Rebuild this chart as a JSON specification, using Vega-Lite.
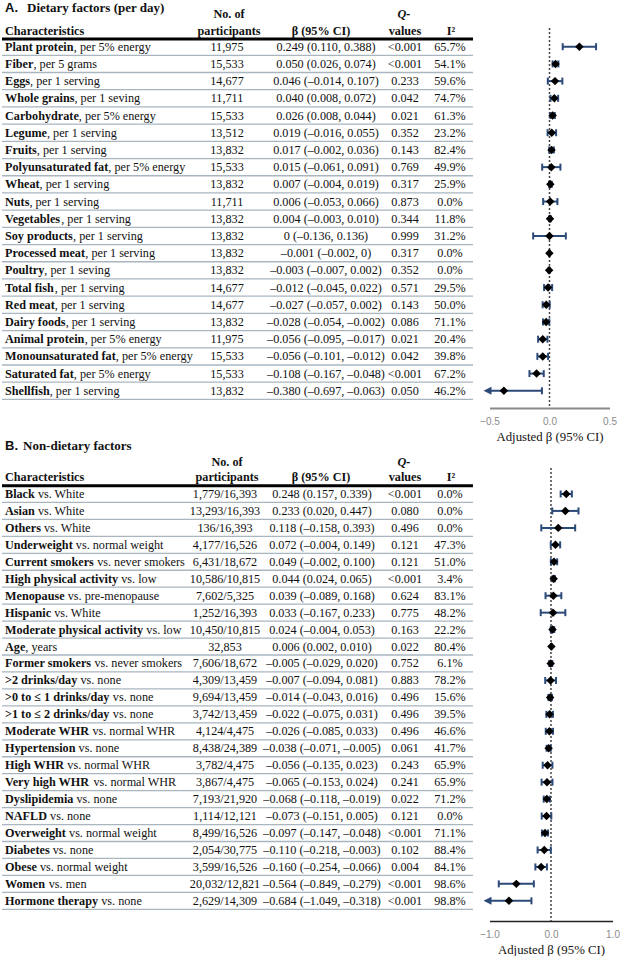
{
"$schema":"https://vega.github.io/schema/vega-lite/v6.json",
"padding":0,
"bounds":"flush",
"columns":2,
"spacing":{"row":28,"column":16.5},
"config":{"view":{"stroke":null},"text":{"font":"Liberation Serif","fontSize":12.2,"color":"#111"},"axis":{"grid":false}},
"datasets":{
"A":[
{"i":0,"name":"Plant protein","rest":", per 5% energy","n":"11,975","ci":"0.249 (0.110, 0.388)","q":"<0.001","i2":"65.7%","b":0.249,"lo":0.110,"hi":0.388},
{"i":1,"name":"Fiber","rest":", per 5 grams","n":"15,533","ci":"0.050 (0.026, 0.074)","q":"<0.001","i2":"54.1%","b":0.050,"lo":0.026,"hi":0.074},
{"i":2,"name":"Eggs","rest":", per 1 serving","n":"14,677","ci":"0.046 (–0.014, 0.107)","q":"0.233","i2":"59.6%","b":0.046,"lo":-0.014,"hi":0.107},
{"i":3,"name":"Whole grains","rest":", per 1 seving","n":"11,711","ci":"0.040 (0.008, 0.072)","q":"0.042","i2":"74.7%","b":0.040,"lo":0.008,"hi":0.072},
{"i":4,"name":"Carbohydrate","rest":", per 5% energy","n":"15,533","ci":"0.026 (0.008, 0.044)","q":"0.021","i2":"61.3%","b":0.026,"lo":0.008,"hi":0.044},
{"i":5,"name":"Legume","rest":", per 1 serving","n":"13,512","ci":"0.019 (–0.016, 0.055)","q":"0.352","i2":"23.2%","b":0.019,"lo":-0.016,"hi":0.055},
{"i":6,"name":"Fruits","rest":", per 1 serving","n":"13,832","ci":"0.017 (–0.002, 0.036)","q":"0.143","i2":"82.4%","b":0.017,"lo":-0.002,"hi":0.036},
{"i":7,"name":"Polyunsaturated fat","rest":", per 5% energy","n":"15,533","ci":"0.015 (–0.061, 0.091)","q":"0.769","i2":"49.9%","b":0.015,"lo":-0.061,"hi":0.091},
{"i":8,"name":"Wheat","rest":", per 1 serving","n":"13,832","ci":"0.007 (–0.004, 0.019)","q":"0.317","i2":"25.9%","b":0.007,"lo":-0.004,"hi":0.019},
{"i":9,"name":"Nuts","rest":", per 1 serving","n":"11,711","ci":"0.006 (–0.053, 0.066)","q":"0.873","i2":"0.0%","b":0.006,"lo":-0.053,"hi":0.066},
{"i":10,"name":"Vegetables","rest":", per 1 serving","n":"13,832","ci":"0.004 (–0.003, 0.010)","q":"0.344","i2":"11.8%","b":0.004,"lo":-0.003,"hi":0.010},
{"i":11,"name":"Soy products","rest":", per 1 serving","n":"13,832","ci":"0 (–0.136, 0.136)","q":"0.999","i2":"31.2%","b":0,"lo":-0.136,"hi":0.136},
{"i":12,"name":"Processed meat","rest":", per 1 serving","n":"13,832","ci":"–0.001 (–0.002, 0)","q":"0.317","i2":"0.0%","b":-0.001,"lo":-0.002,"hi":0},
{"i":13,"name":"Poultry","rest":", per 1 seving","n":"13,832","ci":"–0.003 (–0.007, 0.002)","q":"0.352","i2":"0.0%","b":-0.003,"lo":-0.007,"hi":0.002},
{"i":14,"name":"Total fish","rest":", per 1 serving","n":"14,677","ci":"–0.012 (–0.045, 0.022)","q":"0.571","i2":"29.5%","b":-0.012,"lo":-0.045,"hi":0.022},
{"i":15,"name":"Red meat","rest":", per 1 serving","n":"14,677","ci":"–0.027 (–0.057, 0.002)","q":"0.143","i2":"50.0%","b":-0.027,"lo":-0.057,"hi":0.002},
{"i":16,"name":"Dairy foods","rest":", per 1 serving","n":"13,832","ci":"–0.028 (–0.054, –0.002)","q":"0.086","i2":"71.1%","b":-0.028,"lo":-0.054,"hi":-0.002},
{"i":17,"name":"Animal protein","rest":", per 5% energy","n":"11,975","ci":"–0.056 (–0.095, –0.017)","q":"0.021","i2":"20.4%","b":-0.056,"lo":-0.095,"hi":-0.017},
{"i":18,"name":"Monounsaturated fat","rest":", per 5% energy","n":"15,533","ci":"–0.056 (–0.101, –0.012)","q":"0.042","i2":"39.8%","b":-0.056,"lo":-0.101,"hi":-0.012},
{"i":19,"name":"Saturated fat","rest":", per 5% energy","n":"15,533","ci":"–0.108 (–0.167, –0.048)","q":"<0.001","i2":"67.2%","b":-0.108,"lo":-0.167,"hi":-0.048},
{"i":20,"name":"Shellfish","rest":", per 1 serving","n":"13,832","ci":"–0.380 (–0.697, –0.063)","q":"0.050","i2":"46.2%","b":-0.380,"lo":-0.697,"hi":-0.063}
],
"B":[
{"i":0,"name":"Black","rest":" vs. White","n":"1,779/16,393","ci":"0.248 (0.157, 0.339)","q":"<0.001","i2":"0.0%","b":0.248,"lo":0.157,"hi":0.339},
{"i":1,"name":"Asian","rest":" vs. White","n":"13,293/16,393","ci":"0.233 (0.020, 0.447)","q":"0.080","i2":"0.0%","b":0.233,"lo":0.020,"hi":0.447},
{"i":2,"name":"Others","rest":" vs. White","n":"136/16,393","ci":"0.118 (–0.158, 0.393)","q":"0.496","i2":"0.0%","b":0.118,"lo":-0.158,"hi":0.393},
{"i":3,"name":"Underweight","rest":" vs. normal weight","n":"4,177/16,526","ci":"0.072 (–0.004, 0.149)","q":"0.121","i2":"47.3%","b":0.072,"lo":-0.004,"hi":0.149},
{"i":4,"name":"Current smokers","rest":" vs. never smokers","n":"6,431/18,672","ci":"0.049 (–0.002, 0.100)","q":"0.121","i2":"51.0%","b":0.049,"lo":-0.002,"hi":0.100},
{"i":5,"name":"High physical activity","rest":" vs. low","n":"10,586/10,815","ci":"0.044 (0.024, 0.065)","q":"<0.001","i2":"3.4%","b":0.044,"lo":0.024,"hi":0.065},
{"i":6,"name":"Menopause","rest":" vs. pre-menopause","n":"7,602/5,325","ci":"0.039 (–0.089, 0.168)","q":"0.624","i2":"83.1%","b":0.039,"lo":-0.089,"hi":0.168},
{"i":7,"name":"Hispanic","rest":" vs. White","n":"1,252/16,393","ci":"0.033 (–0.167, 0.233)","q":"0.775","i2":"48.2%","b":0.033,"lo":-0.167,"hi":0.233},
{"i":8,"name":"Moderate physical activity","rest":" vs. low","n":"10,450/10,815","ci":"0.024 (–0.004, 0.053)","q":"0.163","i2":"22.2%","b":0.024,"lo":-0.004,"hi":0.053},
{"i":9,"name":"Age","rest":", years","n":"32,853","ci":"0.006 (0.002, 0.010)","q":"0.022","i2":"80.4%","b":0.006,"lo":0.002,"hi":0.010},
{"i":10,"name":"Former smokers","rest":" vs. never smokers","n":"7,606/18,672","ci":"–0.005 (–0.029, 0.020)","q":"0.752","i2":"6.1%","b":-0.005,"lo":-0.029,"hi":0.020},
{"i":11,"name":">2 drinks/day","rest":" vs. none","n":"4,309/13,459","ci":"–0.007 (–0.094, 0.081)","q":"0.883","i2":"78.2%","b":-0.007,"lo":-0.094,"hi":0.081},
{"i":12,"name":">0 to ≤ 1 drinks/day","rest":" vs. none","n":"9,694/13,459","ci":"–0.014 (–0.043, 0.016)","q":"0.496","i2":"15.6%","b":-0.014,"lo":-0.043,"hi":0.016},
{"i":13,"name":">1 to ≤ 2 drinks/day","rest":" vs. none","n":"3,742/13,459","ci":"–0.022 (–0.075, 0.031)","q":"0.496","i2":"39.5%","b":-0.022,"lo":-0.075,"hi":0.031},
{"i":14,"name":"Moderate WHR","rest":" vs. normal WHR","n":"4,124/4,475","ci":"–0.026 (–0.085, 0.033)","q":"0.496","i2":"46.6%","b":-0.026,"lo":-0.085,"hi":0.033},
{"i":15,"name":"Hypertension","rest":" vs. none","n":"8,438/24,389","ci":"–0.038 (–0.071, –0.005)","q":"0.061","i2":"41.7%","b":-0.038,"lo":-0.071,"hi":-0.005},
{"i":16,"name":"High WHR","rest":" vs. normal WHR","n":"3,782/4,475","ci":"–0.056 (–0.135, 0.023)","q":"0.243","i2":"65.9%","b":-0.056,"lo":-0.135,"hi":0.023},
{"i":17,"name":"Very high WHR","rest":" vs. normal WHR","n":"3,867/4,475","ci":"–0.065 (–0.153, 0.024)","q":"0.241","i2":"65.9%","b":-0.065,"lo":-0.153,"hi":0.024},
{"i":18,"name":"Dyslipidemia","rest":" vs. none","n":"7,193/21,920","ci":"–0.068 (–0.118, –0.019)","q":"0.022","i2":"71.2%","b":-0.068,"lo":-0.118,"hi":-0.019},
{"i":19,"name":"NAFLD","rest":" vs. none","n":"1,114/12,121","ci":"–0.073 (–0.151, 0.005)","q":"0.121","i2":"0.0%","b":-0.073,"lo":-0.151,"hi":0.005},
{"i":20,"name":"Overweight","rest":" vs. normal weight","n":"8,499/16,526","ci":"–0.097 (–0.147, –0.048)","q":"<0.001","i2":"71.1%","b":-0.097,"lo":-0.147,"hi":-0.048},
{"i":21,"name":"Diabetes","rest":" vs. none","n":"2,054/30,775","ci":"–0.110 (–0.218, –0.003)","q":"0.102","i2":"88.4%","b":-0.110,"lo":-0.218,"hi":-0.003},
{"i":22,"name":"Obese","rest":" vs. normal weight","n":"3,599/16,526","ci":"–0.160 (–0.254, –0.066)","q":"0.004","i2":"84.1%","b":-0.160,"lo":-0.254,"hi":-0.066},
{"i":23,"name":"Women","rest":" vs. men","n":"20,032/12,821","ci":"–0.564 (–0.849, –0.279)","q":"<0.001","i2":"98.6%","b":-0.564,"lo":-0.849,"hi":-0.279},
{"i":24,"name":"Hormone therapy","rest":" vs. none","n":"2,629/14,309","ci":"–0.684 (–1.049, –0.318)","q":"<0.001","i2":"98.8%","b":-0.684,"lo":-1.049,"hi":-0.318}
]
},
"concat":[
{"width":472,"height":408,"data":{"name":"A"},
"transform":[
{"calculate":"4 + 0.0122*(500*length(datum.name) - 250*length(replace(datum.name, regexp('[^ ,.]','g'), '')) - 222*length(replace(datum.name, regexp('[^il/]','g'), '')) - 167*length(replace(datum.name, regexp('[^fjt]','g'), '')) - 111*length(replace(datum.name, regexp('[^sI]','g'), '')) - 56*length(replace(datum.name, regexp('[^cerz]','g'), '')) + 56*length(replace(datum.name, regexp('[^bdhknpquS]','g'), '')) + 70*length(replace(datum.name, regexp('[^>≤]','g'), '')) + 111*length(replace(datum.name, regexp('[^FP]','g'), '')) + 167*length(replace(datum.name, regexp('[^BELTZ]','g'), '')) + 222*length(replace(datum.name, regexp('[^wACDNRUVXY]','g'), '')) + 278*length(replace(datum.name, regexp('[^GHKOQ]','g'), '')) + 333*length(replace(datum.name, regexp('[^m]','g'), '')) + 444*length(replace(datum.name, regexp('[^M]','g'), '')) + 500*length(replace(datum.name, regexp('[^W]','g'), '')))","as":"xn"},
{"calculate":"datum.xn + (substring(datum.rest,0,1)==' ' ? 3.05 : 0)","as":"xr"},
{"calculate":"trim(datum.rest)","as":"rt"},
{"calculate":"datum.i + 0.5","as":"sep"}
],
"layer":[
{"mark":{"type":"rule","color":"#a9b6c0","strokeWidth":1.3},"encoding":{"x":{"datum":1,"type":"quantitative","scale":{"domain":[0,472],"nice":false,"zero":false},"axis":null},"x2":{"datum":472},"y":{"field":"sep","type":"quantitative","scale":{"domain":[-2.715,21.0],"reverse":true,"nice":false,"zero":false},"axis":null}}},
{"data":{"values":[{}]},"mark":{"type":"rule","color":"#000","strokeWidth":3},"encoding":{"x":{"datum":1,"type":"quantitative","scale":{"domain":[0,472],"nice":false,"zero":false},"axis":null},"x2":{"datum":472},"y":{"datum":-0.45,"type":"quantitative","scale":{"domain":[-2.715,21.0],"reverse":true,"nice":false,"zero":false},"axis":null}}},
{"mark":{"type":"text","align":"left","baseline":"middle","fontWeight":"bold"},"encoding":{"x":{"datum":4,"type":"quantitative","scale":{"domain":[0,472],"nice":false,"zero":false},"axis":null},"y":{"field":"i","type":"quantitative","scale":{"domain":[-2.715,21.0],"reverse":true,"nice":false,"zero":false},"axis":null},"text":{"field":"name"}}},
{"mark":{"type":"text","align":"left","baseline":"middle"},"encoding":{"x":{"field":"xr","type":"quantitative","scale":{"domain":[0,472],"nice":false,"zero":false},"axis":null},"y":{"field":"i","type":"quantitative","scale":{"domain":[-2.715,21.0],"reverse":true,"nice":false,"zero":false},"axis":null},"text":{"field":"rt"}}},
{"mark":{"type":"text","align":"center","baseline":"middle"},"encoding":{"x":{"datum":226,"type":"quantitative","scale":{"domain":[0,472],"nice":false,"zero":false},"axis":null},"y":{"field":"i","type":"quantitative","scale":{"domain":[-2.715,21.0],"reverse":true,"nice":false,"zero":false},"axis":null},"text":{"field":"n"}}},
{"mark":{"type":"text","align":"center","baseline":"middle"},"encoding":{"x":{"datum":325,"type":"quantitative","scale":{"domain":[0,472],"nice":false,"zero":false},"axis":null},"y":{"field":"i","type":"quantitative","scale":{"domain":[-2.715,21.0],"reverse":true,"nice":false,"zero":false},"axis":null},"text":{"field":"ci"}}},
{"mark":{"type":"text","align":"center","baseline":"middle"},"encoding":{"x":{"datum":404,"type":"quantitative","scale":{"domain":[0,472],"nice":false,"zero":false},"axis":null},"y":{"field":"i","type":"quantitative","scale":{"domain":[-2.715,21.0],"reverse":true,"nice":false,"zero":false},"axis":null},"text":{"field":"q"}}},
{"mark":{"type":"text","align":"center","baseline":"middle"},"encoding":{"x":{"datum":449,"type":"quantitative","scale":{"domain":[0,472],"nice":false,"zero":false},"axis":null},"y":{"field":"i","type":"quantitative","scale":{"domain":[-2.715,21.0],"reverse":true,"nice":false,"zero":false},"axis":null},"text":{"field":"i2"}}},
{"data":{"values":[{}]},"mark":{"type":"text","align":"left","baseline":"middle","font":"Liberation Sans","fontWeight":"bold","fontSize":13,"text":"A."},"encoding":{"x":{"datum":4,"type":"quantitative","scale":{"domain":[0,472],"nice":false,"zero":false},"axis":null},"y":{"datum":-2.25,"type":"quantitative","scale":{"domain":[-2.715,21.0],"reverse":true,"nice":false,"zero":false},"axis":null}}},
{"data":{"values":[{}]},"mark":{"type":"text","align":"left","baseline":"middle","fontWeight":"bold","fontSize":13,"text":"Dietary factors (per day)"},"encoding":{"x":{"datum":26,"type":"quantitative","scale":{"domain":[0,472],"nice":false,"zero":false},"axis":null},"y":{"datum":-2.25,"type":"quantitative","scale":{"domain":[-2.715,21.0],"reverse":true,"nice":false,"zero":false},"axis":null}}},
{"data":{"values":[{}]},"mark":{"type":"text","align":"left","baseline":"middle","fontWeight":"bold","text":"Characteristics"},"encoding":{"x":{"datum":4,"type":"quantitative","scale":{"domain":[0,472],"nice":false,"zero":false},"axis":null},"y":{"datum":-0.93,"type":"quantitative","scale":{"domain":[-2.715,21.0],"reverse":true,"nice":false,"zero":false},"axis":null}}},
{"data":{"values":[{}]},"mark":{"type":"text","align":"center","baseline":"middle","fontWeight":"bold","text":"No. of"},"encoding":{"x":{"datum":228,"type":"quantitative","scale":{"domain":[0,472],"nice":false,"zero":false},"axis":null},"y":{"datum":-1.9,"type":"quantitative","scale":{"domain":[-2.715,21.0],"reverse":true,"nice":false,"zero":false},"axis":null}}},
{"data":{"values":[{}]},"mark":{"type":"text","align":"center","baseline":"middle","fontWeight":"bold","text":"participants"},"encoding":{"x":{"datum":228,"type":"quantitative","scale":{"domain":[0,472],"nice":false,"zero":false},"axis":null},"y":{"datum":-0.93,"type":"quantitative","scale":{"domain":[-2.715,21.0],"reverse":true,"nice":false,"zero":false},"axis":null}}},
{"data":{"values":[{}]},"mark":{"type":"text","align":"center","baseline":"middle","fontWeight":"bold","text":"β (95% CI)"},"encoding":{"x":{"datum":320,"type":"quantitative","scale":{"domain":[0,472],"nice":false,"zero":false},"axis":null},"y":{"datum":-0.93,"type":"quantitative","scale":{"domain":[-2.715,21.0],"reverse":true,"nice":false,"zero":false},"axis":null}}},
{"data":{"values":[{}]},"mark":{"type":"text","align":"center","baseline":"middle","fontWeight":"bold","fontStyle":"italic","text":"Q-"},"encoding":{"x":{"datum":403,"type":"quantitative","scale":{"domain":[0,472],"nice":false,"zero":false},"axis":null},"y":{"datum":-1.9,"type":"quantitative","scale":{"domain":[-2.715,21.0],"reverse":true,"nice":false,"zero":false},"axis":null}}},
{"data":{"values":[{}]},"mark":{"type":"text","align":"center","baseline":"middle","fontWeight":"bold","text":"values"},"encoding":{"x":{"datum":404,"type":"quantitative","scale":{"domain":[0,472],"nice":false,"zero":false},"axis":null},"y":{"datum":-0.93,"type":"quantitative","scale":{"domain":[-2.715,21.0],"reverse":true,"nice":false,"zero":false},"axis":null}}},
{"data":{"values":[{}]},"mark":{"type":"text","align":"center","baseline":"middle","fontWeight":"bold","text":"I²"},"encoding":{"x":{"datum":450,"type":"quantitative","scale":{"domain":[0,472],"nice":false,"zero":false},"axis":null},"y":{"datum":-0.93,"type":"quantitative","scale":{"domain":[-2.715,21.0],"reverse":true,"nice":false,"zero":false},"axis":null}}}
]},
{"width":120,"height":408,"data":{"name":"A"},
"layer":[
{"data":{"values":[{}]},"mark":{"type":"rule","strokeDash":[2,2],"strokeWidth":1.5,"color":"#444"},"encoding":{"x":{"datum":0,"type":"quantitative","scale":{"domain":[-0.5,0.5],"clamp":true,"nice":false,"zero":false},"axis":{"values":[-0.5,0,0.5],"format":".1f","title":"Adjusted β (95% CI)","ticks":false,"grid":false,"domainColor":"#8a8a8a","domainWidth":2,"labelColor":"#8a8a8a","labelFont":"Liberation Sans","labelFontSize":10,"labelPadding":8,"labelFlush":false,"titleFont":"Liberation Serif","titleFontSize":12.8,"titleFontWeight":"normal","titleColor":"#111","titlePadding":4}},"y":{"datum":-1.09,"type":"quantitative","scale":{"domain":[-2.715,21.0],"reverse":true,"nice":false,"zero":false},"axis":null},"y2":{"datum":21}}},
{"mark":{"type":"rule","color":"#2c4a78","strokeWidth":2},"encoding":{"x":{"field":"lo","type":"quantitative","scale":{"domain":[-0.5,0.5],"clamp":true,"nice":false,"zero":false},"axis":{"values":[-0.5,0,0.5],"format":".1f","title":"Adjusted β (95% CI)","ticks":false,"grid":false,"domainColor":"#8a8a8a","domainWidth":2,"labelColor":"#8a8a8a","labelFont":"Liberation Sans","labelFontSize":10,"labelPadding":8,"labelFlush":false,"titleFont":"Liberation Serif","titleFontSize":12.8,"titleFontWeight":"normal","titleColor":"#111","titlePadding":4}},"x2":{"field":"hi"},"y":{"field":"i","type":"quantitative","scale":{"domain":[-2.715,21.0],"reverse":true,"nice":false,"zero":false},"axis":null}}},
{"transform":[{"filter":"datum.lo >= -0.5"}],"mark":{"type":"point","shape":"M0,-1L0,1","filled":false,"strokeWidth":2,"color":"#2c4a78","opacity":1,"size":49},"encoding":{"x":{"field":"lo","type":"quantitative","scale":{"domain":[-0.5,0.5],"clamp":true,"nice":false,"zero":false},"axis":{"values":[-0.5,0,0.5],"format":".1f","title":"Adjusted β (95% CI)","ticks":false,"grid":false,"domainColor":"#8a8a8a","domainWidth":2,"labelColor":"#8a8a8a","labelFont":"Liberation Sans","labelFontSize":10,"labelPadding":8,"labelFlush":false,"titleFont":"Liberation Serif","titleFontSize":12.8,"titleFontWeight":"normal","titleColor":"#111","titlePadding":4}},"y":{"field":"i","type":"quantitative","scale":{"domain":[-2.715,21.0],"reverse":true,"nice":false,"zero":false},"axis":null}}},
{"mark":{"type":"point","shape":"M0,-1L0,1","filled":false,"strokeWidth":2,"color":"#2c4a78","opacity":1,"size":49},"encoding":{"x":{"field":"hi","type":"quantitative","scale":{"domain":[-0.5,0.5],"clamp":true,"nice":false,"zero":false},"axis":{"values":[-0.5,0,0.5],"format":".1f","title":"Adjusted β (95% CI)","ticks":false,"grid":false,"domainColor":"#8a8a8a","domainWidth":2,"labelColor":"#8a8a8a","labelFont":"Liberation Sans","labelFontSize":10,"labelPadding":8,"labelFlush":false,"titleFont":"Liberation Serif","titleFontSize":12.8,"titleFontWeight":"normal","titleColor":"#111","titlePadding":4}},"y":{"field":"i","type":"quantitative","scale":{"domain":[-2.715,21.0],"reverse":true,"nice":false,"zero":false},"axis":null}}},
{"transform":[{"filter":"datum.lo < -0.5"}],"mark":{"type":"point","shape":"M-1.5,0L0.5,-1L0.5,1Z","filled":true,"color":"#2c4a78","opacity":1,"size":64},"encoding":{"x":{"field":"lo","type":"quantitative","scale":{"domain":[-0.5,0.5],"clamp":true,"nice":false,"zero":false},"axis":{"values":[-0.5,0,0.5],"format":".1f","title":"Adjusted β (95% CI)","ticks":false,"grid":false,"domainColor":"#8a8a8a","domainWidth":2,"labelColor":"#8a8a8a","labelFont":"Liberation Sans","labelFontSize":10,"labelPadding":8,"labelFlush":false,"titleFont":"Liberation Serif","titleFontSize":12.8,"titleFontWeight":"normal","titleColor":"#111","titlePadding":4}},"y":{"field":"i","type":"quantitative","scale":{"domain":[-2.715,21.0],"reverse":true,"nice":false,"zero":false},"axis":null}}},
{"mark":{"type":"point","shape":"diamond","filled":true,"color":"#000","opacity":1,"size":72},"encoding":{"x":{"field":"b","type":"quantitative","scale":{"domain":[-0.5,0.5],"clamp":true,"nice":false,"zero":false},"axis":{"values":[-0.5,0,0.5],"format":".1f","title":"Adjusted β (95% CI)","ticks":false,"grid":false,"domainColor":"#8a8a8a","domainWidth":2,"labelColor":"#8a8a8a","labelFont":"Liberation Sans","labelFontSize":10,"labelPadding":8,"labelFlush":false,"titleFont":"Liberation Serif","titleFontSize":12.8,"titleFontWeight":"normal","titleColor":"#111","titlePadding":4}},"y":{"field":"i","type":"quantitative","scale":{"domain":[-2.715,21.0],"reverse":true,"nice":false,"zero":false},"axis":null}}}
]},
{"width":472,"height":485,"data":{"name":"B"},
"transform":[
{"calculate":"4 + 0.0122*(500*length(datum.name) - 250*length(replace(datum.name, regexp('[^ ,.]','g'), '')) - 222*length(replace(datum.name, regexp('[^il/]','g'), '')) - 167*length(replace(datum.name, regexp('[^fjt]','g'), '')) - 111*length(replace(datum.name, regexp('[^sI]','g'), '')) - 56*length(replace(datum.name, regexp('[^cerz]','g'), '')) + 56*length(replace(datum.name, regexp('[^bdhknpquS]','g'), '')) + 70*length(replace(datum.name, regexp('[^>≤]','g'), '')) + 111*length(replace(datum.name, regexp('[^FP]','g'), '')) + 167*length(replace(datum.name, regexp('[^BELTZ]','g'), '')) + 222*length(replace(datum.name, regexp('[^wACDNRUVXY]','g'), '')) + 278*length(replace(datum.name, regexp('[^GHKOQ]','g'), '')) + 333*length(replace(datum.name, regexp('[^m]','g'), '')) + 444*length(replace(datum.name, regexp('[^M]','g'), '')) + 500*length(replace(datum.name, regexp('[^W]','g'), '')))","as":"xn"},
{"calculate":"datum.xn + (substring(datum.rest,0,1)==' ' ? 3.05 : 0)","as":"xr"},
{"calculate":"trim(datum.rest)","as":"rt"},
{"calculate":"datum.i + 0.5","as":"sep"}
],
"layer":[
{"mark":{"type":"rule","color":"#a9b6c0","strokeWidth":1.3},"encoding":{"x":{"datum":1,"type":"quantitative","scale":{"domain":[0,472],"nice":false,"zero":false},"axis":null},"x2":{"datum":472},"y":{"field":"sep","type":"quantitative","scale":{"domain":[-3.42,25.19],"reverse":true,"nice":false,"zero":false},"axis":null}}},
{"data":{"values":[{}]},"mark":{"type":"rule","color":"#000","strokeWidth":3},"encoding":{"x":{"datum":1,"type":"quantitative","scale":{"domain":[0,472],"nice":false,"zero":false},"axis":null},"x2":{"datum":472},"y":{"datum":-0.49,"type":"quantitative","scale":{"domain":[-3.42,25.19],"reverse":true,"nice":false,"zero":false},"axis":null}}},
{"mark":{"type":"text","align":"left","baseline":"middle","fontWeight":"bold"},"encoding":{"x":{"datum":4,"type":"quantitative","scale":{"domain":[0,472],"nice":false,"zero":false},"axis":null},"y":{"field":"i","type":"quantitative","scale":{"domain":[-3.42,25.19],"reverse":true,"nice":false,"zero":false},"axis":null},"text":{"field":"name"}}},
{"mark":{"type":"text","align":"left","baseline":"middle"},"encoding":{"x":{"field":"xr","type":"quantitative","scale":{"domain":[0,472],"nice":false,"zero":false},"axis":null},"y":{"field":"i","type":"quantitative","scale":{"domain":[-3.42,25.19],"reverse":true,"nice":false,"zero":false},"axis":null},"text":{"field":"rt"}}},
{"mark":{"type":"text","align":"center","baseline":"middle"},"encoding":{"x":{"datum":224,"type":"quantitative","scale":{"domain":[0,472],"nice":false,"zero":false},"axis":null},"y":{"field":"i","type":"quantitative","scale":{"domain":[-3.42,25.19],"reverse":true,"nice":false,"zero":false},"axis":null},"text":{"field":"n"}}},
{"mark":{"type":"text","align":"center","baseline":"middle"},"encoding":{"x":{"datum":321,"type":"quantitative","scale":{"domain":[0,472],"nice":false,"zero":false},"axis":null},"y":{"field":"i","type":"quantitative","scale":{"domain":[-3.42,25.19],"reverse":true,"nice":false,"zero":false},"axis":null},"text":{"field":"ci"}}},
{"mark":{"type":"text","align":"center","baseline":"middle"},"encoding":{"x":{"datum":404,"type":"quantitative","scale":{"domain":[0,472],"nice":false,"zero":false},"axis":null},"y":{"field":"i","type":"quantitative","scale":{"domain":[-3.42,25.19],"reverse":true,"nice":false,"zero":false},"axis":null},"text":{"field":"q"}}},
{"mark":{"type":"text","align":"center","baseline":"middle"},"encoding":{"x":{"datum":449,"type":"quantitative","scale":{"domain":[0,472],"nice":false,"zero":false},"axis":null},"y":{"field":"i","type":"quantitative","scale":{"domain":[-3.42,25.19],"reverse":true,"nice":false,"zero":false},"axis":null},"text":{"field":"i2"}}},
{"data":{"values":[{}]},"mark":{"type":"text","align":"left","baseline":"middle","font":"Liberation Sans","fontWeight":"bold","fontSize":13,"text":"B."},"encoding":{"x":{"datum":4,"type":"quantitative","scale":{"domain":[0,472],"nice":false,"zero":false},"axis":null},"y":{"datum":-2.83,"type":"quantitative","scale":{"domain":[-3.42,25.19],"reverse":true,"nice":false,"zero":false},"axis":null}}},
{"data":{"values":[{}]},"mark":{"type":"text","align":"left","baseline":"middle","fontWeight":"bold","fontSize":13,"text":"Non-dietary factors"},"encoding":{"x":{"datum":22,"type":"quantitative","scale":{"domain":[0,472],"nice":false,"zero":false},"axis":null},"y":{"datum":-2.83,"type":"quantitative","scale":{"domain":[-3.42,25.19],"reverse":true,"nice":false,"zero":false},"axis":null}}},
{"data":{"values":[{}]},"mark":{"type":"text","align":"left","baseline":"middle","fontWeight":"bold","text":"Characteristics"},"encoding":{"x":{"datum":4,"type":"quantitative","scale":{"domain":[0,472],"nice":false,"zero":false},"axis":null},"y":{"datum":-0.985,"type":"quantitative","scale":{"domain":[-3.42,25.19],"reverse":true,"nice":false,"zero":false},"axis":null}}},
{"data":{"values":[{}]},"mark":{"type":"text","align":"center","baseline":"middle","fontWeight":"bold","text":"No. of"},"encoding":{"x":{"datum":226,"type":"quantitative","scale":{"domain":[0,472],"nice":false,"zero":false},"axis":null},"y":{"datum":-1.89,"type":"quantitative","scale":{"domain":[-3.42,25.19],"reverse":true,"nice":false,"zero":false},"axis":null}}},
{"data":{"values":[{}]},"mark":{"type":"text","align":"center","baseline":"middle","fontWeight":"bold","text":"participants"},"encoding":{"x":{"datum":226,"type":"quantitative","scale":{"domain":[0,472],"nice":false,"zero":false},"axis":null},"y":{"datum":-0.985,"type":"quantitative","scale":{"domain":[-3.42,25.19],"reverse":true,"nice":false,"zero":false},"axis":null}}},
{"data":{"values":[{}]},"mark":{"type":"text","align":"center","baseline":"middle","fontWeight":"bold","text":"β (95% CI)"},"encoding":{"x":{"datum":320,"type":"quantitative","scale":{"domain":[0,472],"nice":false,"zero":false},"axis":null},"y":{"datum":-0.985,"type":"quantitative","scale":{"domain":[-3.42,25.19],"reverse":true,"nice":false,"zero":false},"axis":null}}},
{"data":{"values":[{}]},"mark":{"type":"text","align":"center","baseline":"middle","fontWeight":"bold","fontStyle":"italic","text":"Q-"},"encoding":{"x":{"datum":403,"type":"quantitative","scale":{"domain":[0,472],"nice":false,"zero":false},"axis":null},"y":{"datum":-1.89,"type":"quantitative","scale":{"domain":[-3.42,25.19],"reverse":true,"nice":false,"zero":false},"axis":null}}},
{"data":{"values":[{}]},"mark":{"type":"text","align":"center","baseline":"middle","fontWeight":"bold","text":"values"},"encoding":{"x":{"datum":404,"type":"quantitative","scale":{"domain":[0,472],"nice":false,"zero":false},"axis":null},"y":{"datum":-0.985,"type":"quantitative","scale":{"domain":[-3.42,25.19],"reverse":true,"nice":false,"zero":false},"axis":null}}},
{"data":{"values":[{}]},"mark":{"type":"text","align":"center","baseline":"middle","fontWeight":"bold","text":"I²"},"encoding":{"x":{"datum":450,"type":"quantitative","scale":{"domain":[0,472],"nice":false,"zero":false},"axis":null},"y":{"datum":-0.985,"type":"quantitative","scale":{"domain":[-3.42,25.19],"reverse":true,"nice":false,"zero":false},"axis":null}}}
]},
{"width":123,"height":485,"data":{"name":"B"},
"layer":[
{"data":{"values":[{}]},"mark":{"type":"rule","strokeDash":[2,2],"strokeWidth":1.5,"color":"#444"},"encoding":{"x":{"datum":0,"type":"quantitative","scale":{"domain":[-1,1],"clamp":true,"nice":false,"zero":false},"axis":{"values":[-1,0,1],"format":".1f","title":"Adjusted β (95% CI)","ticks":false,"grid":false,"domainColor":"#222","domainWidth":1.5,"labelColor":"#8a8a8a","labelFont":"Liberation Sans","labelFontSize":10,"labelPadding":8,"labelFlush":false,"titleFont":"Liberation Serif","titleFontSize":12.8,"titleFontWeight":"normal","titleColor":"#111","titlePadding":4}},"y":{"datum":-1.53,"type":"quantitative","scale":{"domain":[-3.42,25.19],"reverse":true,"nice":false,"zero":false},"axis":null},"y2":{"datum":25.19}}},
{"mark":{"type":"rule","color":"#2c4a78","strokeWidth":2},"encoding":{"x":{"field":"lo","type":"quantitative","scale":{"domain":[-1,1],"clamp":true,"nice":false,"zero":false},"axis":{"values":[-1,0,1],"format":".1f","title":"Adjusted β (95% CI)","ticks":false,"grid":false,"domainColor":"#222","domainWidth":1.5,"labelColor":"#8a8a8a","labelFont":"Liberation Sans","labelFontSize":10,"labelPadding":8,"labelFlush":false,"titleFont":"Liberation Serif","titleFontSize":12.8,"titleFontWeight":"normal","titleColor":"#111","titlePadding":4}},"x2":{"field":"hi"},"y":{"field":"i","type":"quantitative","scale":{"domain":[-3.42,25.19],"reverse":true,"nice":false,"zero":false},"axis":null}}},
{"transform":[{"filter":"datum.lo >= -1"}],"mark":{"type":"point","shape":"M0,-1L0,1","filled":false,"strokeWidth":2,"color":"#2c4a78","opacity":1,"size":49},"encoding":{"x":{"field":"lo","type":"quantitative","scale":{"domain":[-1,1],"clamp":true,"nice":false,"zero":false},"axis":{"values":[-1,0,1],"format":".1f","title":"Adjusted β (95% CI)","ticks":false,"grid":false,"domainColor":"#222","domainWidth":1.5,"labelColor":"#8a8a8a","labelFont":"Liberation Sans","labelFontSize":10,"labelPadding":8,"labelFlush":false,"titleFont":"Liberation Serif","titleFontSize":12.8,"titleFontWeight":"normal","titleColor":"#111","titlePadding":4}},"y":{"field":"i","type":"quantitative","scale":{"domain":[-3.42,25.19],"reverse":true,"nice":false,"zero":false},"axis":null}}},
{"mark":{"type":"point","shape":"M0,-1L0,1","filled":false,"strokeWidth":2,"color":"#2c4a78","opacity":1,"size":49},"encoding":{"x":{"field":"hi","type":"quantitative","scale":{"domain":[-1,1],"clamp":true,"nice":false,"zero":false},"axis":{"values":[-1,0,1],"format":".1f","title":"Adjusted β (95% CI)","ticks":false,"grid":false,"domainColor":"#222","domainWidth":1.5,"labelColor":"#8a8a8a","labelFont":"Liberation Sans","labelFontSize":10,"labelPadding":8,"labelFlush":false,"titleFont":"Liberation Serif","titleFontSize":12.8,"titleFontWeight":"normal","titleColor":"#111","titlePadding":4}},"y":{"field":"i","type":"quantitative","scale":{"domain":[-3.42,25.19],"reverse":true,"nice":false,"zero":false},"axis":null}}},
{"transform":[{"filter":"datum.lo < -1"}],"mark":{"type":"point","shape":"M-1.5,0L0.5,-1L0.5,1Z","filled":true,"color":"#2c4a78","opacity":1,"size":64},"encoding":{"x":{"field":"lo","type":"quantitative","scale":{"domain":[-1,1],"clamp":true,"nice":false,"zero":false},"axis":{"values":[-1,0,1],"format":".1f","title":"Adjusted β (95% CI)","ticks":false,"grid":false,"domainColor":"#222","domainWidth":1.5,"labelColor":"#8a8a8a","labelFont":"Liberation Sans","labelFontSize":10,"labelPadding":8,"labelFlush":false,"titleFont":"Liberation Serif","titleFontSize":12.8,"titleFontWeight":"normal","titleColor":"#111","titlePadding":4}},"y":{"field":"i","type":"quantitative","scale":{"domain":[-3.42,25.19],"reverse":true,"nice":false,"zero":false},"axis":null}}},
{"mark":{"type":"point","shape":"diamond","filled":true,"color":"#000","opacity":1,"size":72},"encoding":{"x":{"field":"b","type":"quantitative","scale":{"domain":[-1,1],"clamp":true,"nice":false,"zero":false},"axis":{"values":[-1,0,1],"format":".1f","title":"Adjusted β (95% CI)","ticks":false,"grid":false,"domainColor":"#222","domainWidth":1.5,"labelColor":"#8a8a8a","labelFont":"Liberation Sans","labelFontSize":10,"labelPadding":8,"labelFlush":false,"titleFont":"Liberation Serif","titleFontSize":12.8,"titleFontWeight":"normal","titleColor":"#111","titlePadding":4}},"y":{"field":"i","type":"quantitative","scale":{"domain":[-3.42,25.19],"reverse":true,"nice":false,"zero":false},"axis":null}}}
]}
]
}
